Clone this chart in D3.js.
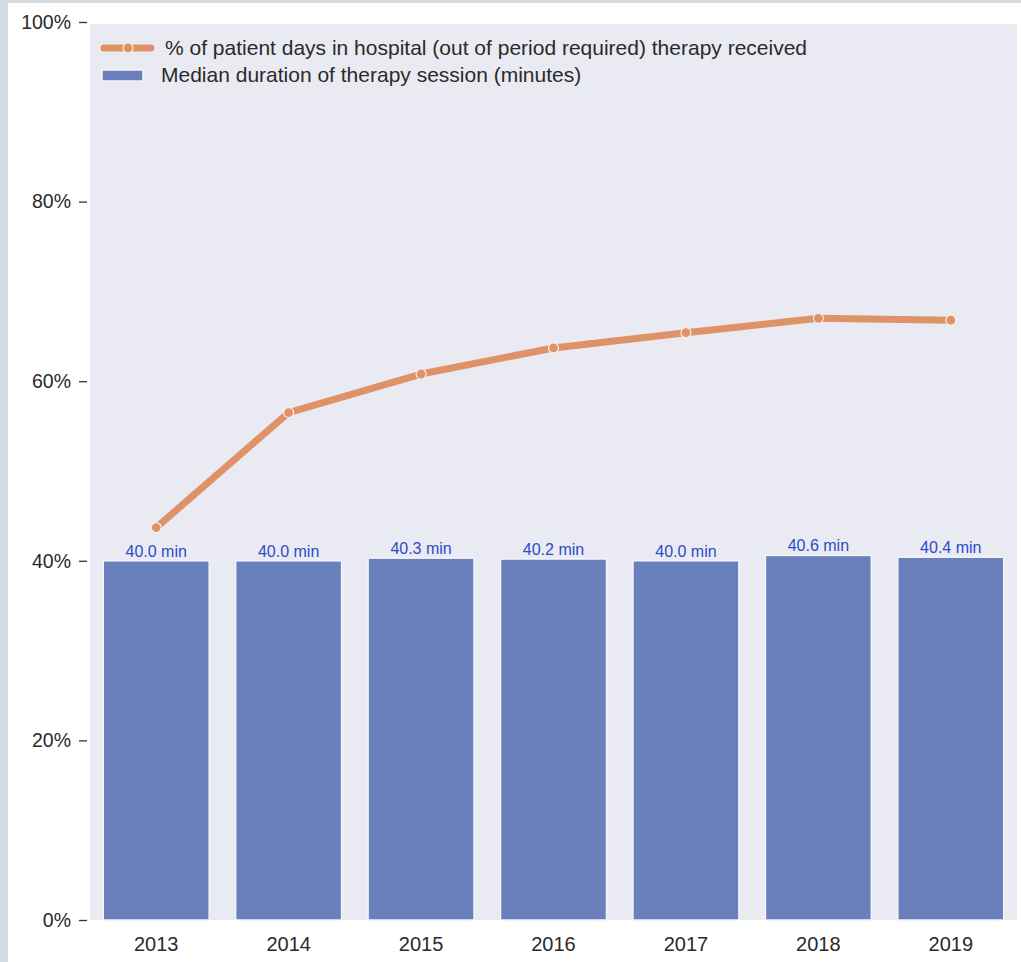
<!DOCTYPE html>
<html><head><meta charset="utf-8">
<script src="https://cdn.jsdelivr.net/npm/d3@7"></script>
<style>
html,body{margin:0;padding:0;background:#d4dde3;}
svg{display:block;}
text{font-family:"Liberation Sans",Arial,sans-serif;}
</style></head>
<body>
<svg id="c" width="1021" height="962"></svg>
<script>
const years = ["2013","2014","2015","2016","2017","2018","2019"];
const medianMinutes = [40.0, 40.0, 40.3, 40.2, 40.0, 40.6, 40.4];
const pctDays = [0.437, 0.565, 0.608, 0.637, 0.654, 0.670, 0.668];
const yTicks = [0, 0.2, 0.4, 0.6, 0.8, 1.0];
const lineLabel = "% of patient days in hospital (out of period required) therapy received";
const barLabel = "Median duration of therapy session (minutes)";

const svg = d3.select("#c");
svg.append("rect").attr("x",8).attr("y",3).attr("width",1013).attr("height",959).attr("fill","#ffffff");

const L=90, R=1017, T=22, B=920;
const x = d3.scaleBand().domain(years).range([L,R]).paddingInner(0.2).paddingOuter(0.1);
const y = d3.scaleLinear().domain([0,1]).range([B,T]);

svg.append("rect").attr("x",L).attr("y",24).attr("width",R-L).attr("height",B-24).attr("fill","#eaeaf2");

// bars
svg.append("g").selectAll("rect").data(years).join("rect")
  .attr("x",d=>x(d)).attr("width",x.bandwidth())
  .attr("y",(d,i)=>y(medianMinutes[i]/100))
  .attr("height",(d,i)=>B-y(medianMinutes[i]/100))
  .attr("fill","#6a80bc").attr("stroke","#f4f4fa").attr("stroke-width",1.5);

// bar labels
svg.append("g").selectAll("text").data(years).join("text")
  .attr("x",d=>x(d)+x.bandwidth()/2)
  .attr("y",(d,i)=>y(medianMinutes[i]/100)-4)
  .attr("text-anchor","middle").attr("font-size",16).attr("fill","#2a4ccc")
  .text((d,i)=>medianMinutes[i].toFixed(1)+" min");

// line
const cx = d=>x(d)+x.bandwidth()/2;
const line = d3.line().x((d,i)=>cx(years[i])).y(d=>y(d));
svg.append("path").datum(pctDays).attr("d",line).attr("fill","none")
  .attr("stroke","#df9168").attr("stroke-width",7).attr("stroke-linecap","round").attr("stroke-linejoin","round");
svg.append("g").selectAll("circle").data(pctDays).join("circle")
  .attr("cx",(d,i)=>cx(years[i])).attr("cy",d=>y(d)).attr("r",5)
  .attr("fill","#df9168").attr("stroke","#f6efe9").attr("stroke-width",1.2);

// y axis
const ya = svg.append("g").attr("transform",`translate(${L},0)`)
  .call(d3.axisLeft(y).tickValues(yTicks).tickFormat(d3.format(".0%")).tickSize(8).tickPadding(8));
ya.select(".domain").remove();
ya.selectAll("line").attr("stroke","#333").attr("stroke-width",1.3).attr("transform","translate(-3,0)");
ya.selectAll("text").attr("font-size",19.5).attr("fill","#2a2a2a").attr("font-family","Liberation Sans, Arial, sans-serif").attr("dx",-3);

// x axis
const xa = svg.append("g").attr("transform",`translate(0,${B})`)
  .call(d3.axisBottom(x).tickSize(0).tickPadding(17));
xa.select(".domain").remove();
xa.selectAll("text").attr("font-size",20).attr("fill","#2a2a2a").attr("font-family","Liberation Sans, Arial, sans-serif");

// legend
const lg = svg.append("g");
lg.append("line").attr("x1",104).attr("x2",151).attr("y1",48).attr("y2",48)
  .attr("stroke","#df9168").attr("stroke-width",7).attr("stroke-linecap","round");
lg.append("circle").attr("cx",128).attr("cy",48).attr("r",5).attr("fill","#df9168").attr("stroke","#f6efe9").attr("stroke-width",1.2);
lg.append("text").attr("x",165).attr("y",55).attr("font-size",21).attr("fill","#2a2a2a").text(lineLabel);
lg.append("rect").attr("x",102).attr("y",70).attr("width",41).attr("height",11)
  .attr("fill","#6a80bc").attr("stroke","#f4f4fa").attr("stroke-width",1.5);
lg.append("text").attr("x",161).attr("y",82).attr("font-size",21).attr("fill","#2a2a2a").text(barLabel);
</script>
</body></html>
